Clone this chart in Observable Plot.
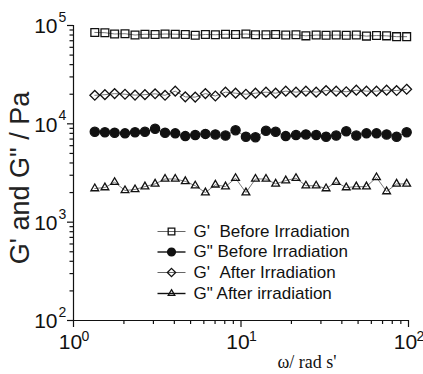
<!DOCTYPE html>
<html><head><meta charset="utf-8">
<script src="https://cdn.jsdelivr.net/npm/d3@7"></script>
<script src="https://cdn.jsdelivr.net/npm/@observablehq/plot@0.6"></script>
<style>body{margin:0;background:#fff} svg{display:block}</style>
</head><body><div id="chart"></div>
<script>
// angular frequency (rad/s)
const omega = [1.34, 1.54, 1.76, 2.03, 2.33, 2.67, 3.07, 3.52, 4.05, 4.65, 5.33, 6.13, 7.03, 8.08, 9.28, 10.7,
  12.2, 14.1, 16.1, 18.5, 21.3, 24.4, 28.1, 32.2, 37.0, 42.5, 48.8, 56.1, 64.4, 74.0, 84.9, 97.5];
// G' before irradiation (Pa)
const gpBefore = [85000, 84500, 82000, 82500, 80000, 81500, 81000, 82000, 81500, 81000, 79500, 81000, 80500, 81500, 81000, 82000,
  80500, 80500, 81000, 80000, 80500, 78500, 80000, 79500, 80000, 79500, 80000, 78000, 79000, 78500, 77000, 77000];
// G'' before irradiation (Pa)
const gppBefore = [8300, 8200, 8100, 8000, 8200, 8300, 8900, 8100, 8000, 7500, 7700, 7900, 7800, 7600, 8600, 7400,
  7300, 8500, 8300, 7500, 7700, 7800, 7700, 7400, 7600, 8400, 7600, 8000, 8000, 7800, 7400, 8200];
// G' after irradiation (Pa)
const gpAfter = [19500, 19800, 20300, 20000, 19600, 19800, 20200, 19500, 21500, 18800, 18700, 20300, 19200, 21000, 20500, 20000,
  20500, 21000, 20500, 21500, 21000, 21500, 21000, 21800, 21500, 21200, 22000, 21500, 21500, 22000, 21800, 22500];
// G'' after irradiation (Pa)
const gppAfter = [2200, 2250, 2550, 2100, 2150, 2300, 2450, 2750, 2750, 2600, 2350, 2000, 2400, 2300, 2800, 2000,
  2750, 2750, 2450, 2650, 2800, 2350, 2350, 2200, 2550, 2250, 2300, 2300, 2850, 2050, 2450, 2450];

const seriesLabels = ["G'\u00a0\u00a0Before Irradiation", "G\" Before Irradiation", "G'\u00a0\u00a0After Irradiation", "G\" After irradiation"];
const seriesValues = [gpBefore, gppBefore, gpAfter, gppAfter];
const seriesSymbols = ["square", "circle", "diamond2", "triangle2"];
const seriesFills = ["none", "#111", "none", "none"];

const xTickValues = [1, 10, 100];
const xTickExp = ["0", "1", "2"];
const yTickValues = [100, 1000, 10000, 100000];
const yTickExp = ["2", "3", "4", "5"];
const xMinor = [2, 3, 4, 5, 6, 7, 8, 9, 20, 30, 40, 50, 60, 70, 80, 90];
const yMinor = [200, 300, 400, 500, 600, 700, 800, 900, 2000, 3000, 4000, 5000, 6000, 7000, 8000, 9000,
  20000, 30000, 40000, 50000, 60000, 70000, 80000, 90000];

const xLabel = "\u03c9/ rad s'";
const yLabel = "G' and G\" / Pa";

const sizes = [4.4, 4.6, 4.4, 3.7];
const tickFont = "'Liberation Sans Narrow', 'Liberation Sans', Arial, sans-serif";
const font = "'Liberation Sans', Arial, sans-serif";

const lineSym = {draw(ctx) { ctx.moveTo(-14, 0); ctx.lineTo(14, 0); }};

const marks = [];
// axis lines
marks.push(Plot.ruleX([1], {stroke: "#111", strokeWidth: 1.2}));
marks.push(Plot.ruleY([100], {stroke: "#111", strokeWidth: 1.2}));
// ticks
marks.push(Plot.axisX(xTickValues, {tickSize: 7, tickFormat: () => "", label: null, stroke: "#111", strokeWidth: 1.2}));
marks.push(Plot.axisX(xMinor, {tickSize: 4, tickFormat: () => "", label: null, stroke: "#111", strokeWidth: 1.2}));
marks.push(Plot.axisY(yTickValues, {tickSize: 6, tickFormat: () => "", label: null, stroke: "#111", strokeWidth: 1.2}));
marks.push(Plot.axisY(yMinor, {tickSize: 3.5, tickFormat: () => "", label: null, stroke: "#111", strokeWidth: 1.2}));
// tick labels
marks.push(Plot.text(xTickValues, {x: d => d, frameAnchor: "bottom", text: () => "10", dx: -3, dy: 22,
  textAnchor: "middle", lineAnchor: "middle", fontSize: 21, fontFamily: tickFont, fill: "#111"}));
marks.push(Plot.text(xTickValues, {x: d => d, frameAnchor: "bottom", text: (d, i) => xTickExp[i], dx: 8, dy: 16,
  textAnchor: "start", lineAnchor: "middle", fontSize: 14, fontFamily: tickFont, fill: "#111"}));
marks.push(Plot.text(yTickValues, {y: d => d, frameAnchor: "left", text: () => "10", dx: -16, dy: 1,
  textAnchor: "end", lineAnchor: "middle", fontSize: 21, fontFamily: tickFont, fill: "#111"}));
marks.push(Plot.text(yTickValues, {y: d => d, frameAnchor: "left", text: (d, i) => yTickExp[i], dx: -15, dy: -8,
  textAnchor: "start", lineAnchor: "middle", fontSize: 14, fontFamily: tickFont, fill: "#111"}));
// axis titles
marks.push(Plot.text([yLabel], {frameAnchor: "left", text: d => d, rotate: -90, dx: -53, dy: 5,
  textAnchor: "middle", lineAnchor: "middle", fontSize: 27, fontFamily: font, fill: "#222"}));
marks.push(Plot.text([xLabel], {frameAnchor: "bottom", text: d => d, dx: 66, dy: 42,
  textAnchor: "middle", lineAnchor: "middle", fontSize: 18, fontFamily: "'Liberation Serif', 'Times New Roman', serif", fill: "#111"}));

// data series
seriesValues.forEach((vals, s) => {
  marks.push(Plot.line(omega, {x: d => d, y: (d, i) => vals[i], stroke: "#555", strokeWidth: 0.8}));
});
seriesValues.forEach((vals, s) => {
  marks.push(Plot.dot(omega, {x: d => d, y: (d, i) => vals[i], symbol: seriesSymbols[s], r: sizes[s],
    fill: seriesFills[s], stroke: "#111", strokeWidth: 1.3}));
});

// legend (inside the frame)
const legendRowDy = [206, 226.5, 247, 268];
seriesLabels.forEach((label, s) => {
  const isGpp = s % 2 === 1;
  marks.push(Plot.dot([label], {frameAnchor: "top-left", dx: 98, dy: legendRowDy[s], symbol: lineSym,
    stroke: isGpp ? "#111" : "#666", strokeWidth: isGpp ? 1.4 : 1}));
  marks.push(Plot.dot([label], {frameAnchor: "top-left", dx: 98, dy: legendRowDy[s], symbol: seriesSymbols[s],
    r: sizes[s] * 0.85, fill: seriesFills[s], stroke: "#111", strokeWidth: 1.3}));
  marks.push(Plot.text([label], {frameAnchor: "top-left", dx: 120, dy: legendRowDy[s], text: d => d,
    textAnchor: "start", lineAnchor: "middle", fontSize: 17, fontFamily: font, fill: "#111"}));
});

const chart = Plot.plot({
  width: 423,
  height: 374,
  marginLeft: 73,
  marginRight: 15,
  marginTop: 25,
  marginBottom: 54,
  x: {type: "log", domain: [1, 100]},
  y: {type: "log", domain: [100, 100000]},
  style: {background: "white", color: "#111"},
  marks
});
document.getElementById("chart").appendChild(chart);
</script>
</body></html>
